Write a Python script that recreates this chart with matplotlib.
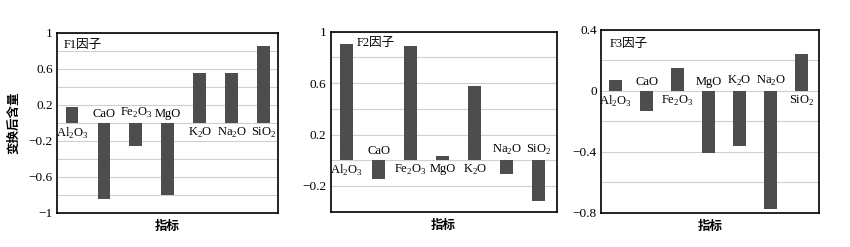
import matplotlib
matplotlib.use("Agg")
import matplotlib.pyplot as plt
import numpy as np

plt.rcParams['font.family'] = ['Liberation Serif', 'Noto Sans CJK SC']
plt.rcParams['mathtext.fontset'] = 'custom'
plt.rcParams['mathtext.rm'] = 'Liberation Serif'

categories = [r'Al$_\mathregular{2}$O$_\mathregular{3}$', 'CaO',
              r'Fe$_\mathregular{2}$O$_\mathregular{3}$', 'MgO',
              r'K$_\mathregular{2}$O', r'Na$_\mathregular{2}$O',
              r'SiO$_\mathregular{2}$']
f1_values = [0.18, -0.85, -0.255, -0.80, 0.555, 0.56, 0.85]
f2_values = [0.90, -0.145, 0.885, 0.034, 0.575, -0.108, -0.32]
f3_values = [0.068, -0.134, 0.151, -0.405, -0.363, -0.773, 0.243]
titles = ['F1因子', 'F2因子', 'F3因子']
ylims = [(-1, 1), (-0.4, 1.0), (-0.8, 0.4)]
yticks = [[-1, -0.6, -0.2, 0.2, 0.6, 1],
          [-0.2, 0.2, 0.6, 1],
          [-0.8, -0.4, 0, 0.4]]
ytick_labels = [['−1', '−0.6', '−0.2', '0.2', '0.6', '1'],
                ['−0.2', '0.2', '0.6', '1'],
                ['−0.8', '−0.4', '0', '0.4']]
grid_step = 0.2
xlims = [(-0.47, 6.45), (-0.5, 6.56), (-0.47, 6.56)]
positions = [[0.067, 0.1377, 0.26, 0.729],
             [0.389, 0.143, 0.266, 0.729],
             [0.707, 0.139, 0.2565, 0.74]]
title_pos = [(0.03, 0.933), (0.115, 0.935), (0.04, 0.923)]

fig = plt.figure(figsize=(8.5, 2.47), dpi=100)
bar_color = '#4d4d4d'
for i, vals in enumerate([f1_values, f2_values, f3_values]):
    ax = fig.add_axes(positions[i])
    x = np.arange(len(categories))
    lo, hi = ylims[i]
    grid = np.arange(lo, hi + 1e-9, grid_step)
    for g in grid:
        ax.axhline(g, color='#cfcfcf', lw=0.8, zorder=0)
    ax.bar(x, vals, width=0.4, color=bar_color, zorder=2)
    for xi, v, lab in zip(x, vals, categories):
        if v >= 0:
            ax.annotate(lab, (xi, 0), xytext=(0, -2), textcoords='offset points',
                        ha='center', va='top', fontsize=9)
        else:
            ax.annotate(lab, (xi, 0), xytext=(0, 2), textcoords='offset points',
                        ha='center', va='bottom', fontsize=9)
    ax.set_ylim(lo, hi)
    ax.set_xlim(*xlims[i])
    ax.set_yticks(yticks[i])
    ax.set_yticklabels(ytick_labels[i], fontsize=9.5)
    ax.set_xticks([])
    ax.tick_params(axis='y', length=0, pad=3)
    for s in ax.spines.values():
        s.set_linewidth(1.2)
    ax.text(title_pos[i][0], title_pos[i][1], titles[i], transform=ax.transAxes,
            ha='left', va='center', fontsize=9)
    ax.set_xlabel('指标', fontsize=9, labelpad=5, fontweight='bold',
                  family=['Noto Sans CJK SC'])
    if i == 0:
        ax.set_ylabel('变换后含量', fontsize=9, family=['Noto Sans CJK SC'],
                      fontweight='bold', labelpad=6)

fig.savefig('out.png', dpi=100)
